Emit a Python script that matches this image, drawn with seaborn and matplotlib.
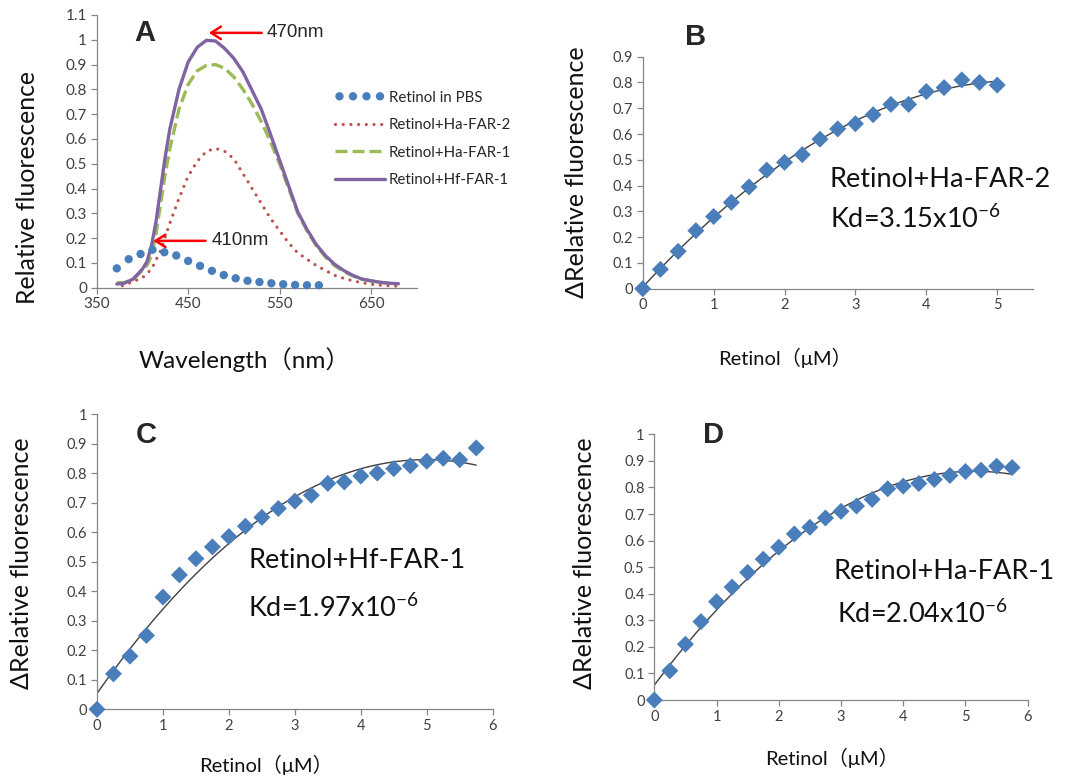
import numpy as np
import pandas as pd
import seaborn as sns
import matplotlib
matplotlib.use("Agg")
import matplotlib.pyplot as plt
from matplotlib.ticker import FuncFormatter, MultipleLocator

sns.set_style("white")
plt.rcParams['font.family'] = ['Lato', 'Noto Sans CJK SC', 'DejaVu Sans']
plt.rcParams['axes.unicode_minus'] = False

# ---------------- Panel A data ----------------
pbs_wl = [372, 385, 398, 411, 424, 437, 450, 463, 476, 489, 502, 515, 528, 541, 554, 567, 580, 593]
pbs_val = [0.078, 0.115, 0.136, 0.153, 0.143, 0.13, 0.108, 0.088, 0.068, 0.051, 0.038, 0.028,
           0.023, 0.018, 0.014, 0.011, 0.01, 0.01]

far2_wl = [378, 390, 400, 410, 420, 430, 440, 450, 460, 470, 480, 490, 500, 510, 520, 530, 540,
           550, 560, 570, 580, 590, 600, 610, 620, 630, 640, 650, 660, 670, 680]
far2_val = [0.008, 0.025, 0.04, 0.075, 0.15, 0.26, 0.36, 0.45, 0.51, 0.55, 0.562, 0.55, 0.52,
            0.46, 0.40, 0.34, 0.28, 0.23, 0.18, 0.14, 0.115, 0.09, 0.07, 0.05, 0.038, 0.028,
            0.02, 0.014, 0.01, 0.008, 0.006]

far1_wl = [372, 380, 390, 400, 405, 410, 415, 420, 425, 430, 440, 450, 460, 470, 480, 490, 500,
           510, 520, 530, 540, 550, 560, 570, 580, 590, 600, 610, 620, 630, 640, 650, 660, 670, 680]
haf1_val = [0.02, 0.02, 0.035, 0.07, 0.09, 0.13, 0.22, 0.34, 0.46, 0.56, 0.72, 0.82, 0.875,
            0.897, 0.90, 0.885, 0.85, 0.80, 0.74, 0.67, 0.59, 0.50, 0.40, 0.30, 0.23, 0.17,
            0.125, 0.09, 0.065, 0.048, 0.034, 0.027, 0.021, 0.018, 0.016]
hff1_val = [0.015, 0.018, 0.035, 0.075, 0.105, 0.17, 0.27, 0.40, 0.53, 0.64, 0.80, 0.91, 0.97,
            0.998, 0.995, 0.965, 0.925, 0.87, 0.795, 0.72, 0.62, 0.515, 0.41, 0.305, 0.235,
            0.175, 0.13, 0.095, 0.07, 0.05, 0.035, 0.028, 0.022, 0.018, 0.016]

# ---------------- Panels B-D data ----------------
conc_b = [0, 0.25, 0.5, 0.75, 1, 1.25, 1.5, 1.75, 2, 2.25, 2.5, 2.75, 3, 3.25, 3.5, 3.75, 4,
          4.25, 4.5, 4.75, 5]
val_b = [0, 0.075, 0.145, 0.225, 0.28, 0.335, 0.395, 0.46, 0.49, 0.52, 0.58, 0.62, 0.64, 0.675,
         0.715, 0.715, 0.765, 0.78, 0.81, 0.80, 0.79]

conc_cd = [0, 0.25, 0.5, 0.75, 1, 1.25, 1.5, 1.75, 2, 2.25, 2.5, 2.75, 3, 3.25, 3.5, 3.75, 4,
           4.25, 4.5, 4.75, 5, 5.25, 5.5, 5.75]
val_c = [0, 0.12, 0.18, 0.25, 0.38, 0.455, 0.51, 0.55, 0.585, 0.62, 0.65, 0.68, 0.705, 0.725,
         0.765, 0.77, 0.79, 0.80, 0.815, 0.825, 0.84, 0.85, 0.845, 0.885]
val_d = [0, 0.11, 0.21, 0.295, 0.37, 0.425, 0.48, 0.53, 0.575, 0.625, 0.65, 0.685, 0.71, 0.73,
         0.755, 0.795, 0.805, 0.815, 0.83, 0.845, 0.86, 0.865, 0.88, 0.875]

label_b = "Retinol+Ha-FAR-2"
label_c = "Retinol+Hf-FAR-1"
label_d = "Retinol+Ha-FAR-1"
kd_b, kd_c, kd_d = "3.15", "1.97", "2.04"

# ---------------- styling ----------------
AX_COL = "#868686"
TICK_COL = "#404040"
BLUE = "#4A7EBB"
RED = "#C0504D"
GREEN = "#9BBB59"
PURPLE = "#8064A2"
FIT = "#404040"
ARIAL = ['Liberation Sans', 'DejaVu Sans']

fig = plt.figure(figsize=(10.81, 7.78), dpi=100)
W, H = 1081, 778


def add_ax(l, t, r, b):
    return fig.add_axes([l / W, 1 - b / H, (r - l) / W, (b - t) / H])


def style(ax, ysize=10.5):
    sns.despine(ax=ax)
    for s in ("left", "bottom"):
        ax.spines[s].set_color(AX_COL)
        ax.spines[s].set_linewidth(0.9)
    ax.tick_params(axis="both", direction="out", length=4, width=0.9, color=AX_COL,
                   labelcolor=TICK_COL, labelsize=ysize, pad=3, left=True, bottom=True)
    ax.yaxis.set_major_formatter(FuncFormatter(lambda v, p: f"{v:g}"))
    ax.xaxis.set_major_formatter(FuncFormatter(lambda v, p: f"{v:g}"))
    ax.grid(False)


# ---------------- Panel A ----------------
axA = add_ax(96.7, 15, 416.7, 287.7)
sns.scatterplot(x=pbs_wl, y=pbs_val, ax=axA, color=BLUE, s=36, edgecolor="none",
                label="Retinol in PBS", clip_on=False, zorder=3)
sns.lineplot(x=far2_wl, y=far2_val, ax=axA, color=RED, lw=2.3,
             linestyle=(0, (0.01, 2.4)), dash_capstyle="round", label="Retinol+Ha-FAR-2")
sns.lineplot(x=far1_wl, y=haf1_val, ax=axA, color=GREEN, lw=2.4,
             linestyle=(0, (3.6, 1.5)), label="Retinol+Ha-FAR-1")
sns.lineplot(x=far1_wl, y=hff1_val, ax=axA, color=PURPLE, lw=2.4, label="Retinol+Hf-FAR-1")
axA.set_xlim(350, 700)
axA.set_ylim(0, 1.1)
axA.set_xticks([350, 450, 550, 650])
axA.yaxis.set_major_locator(MultipleLocator(0.1))
style(axA, 11)
axA.set_ylabel("Relative fluorescence", fontsize=17.8, va="center", color="#111111")
axA.yaxis.set_label_coords(-0.215, 0.366)
axA.set_xlabel("Wavelength（nm）", fontsize=17.5, va="center", color="#111111")
axA.xaxis.set_label_coords(0.463, -0.265)
leg = axA.legend(loc="center left", bbox_to_anchor=(335 / W, 1 - 138.8 / H),
                 bbox_transform=fig.transFigure, frameon=False, fontsize=10.8,
                 handlelength=3.3, handletextpad=0.3, labelspacing=0.9, borderpad=0,
                 borderaxespad=0, scatterpoints=4, scatteryoffsets=[0.5])
for t in leg.get_texts():
    t.set_color("#262626")
axA.annotate("", xy=(472.7, 1.028), xytext=(530.5, 1.028),
             arrowprops=dict(arrowstyle="->,head_length=0.7,head_width=0.45", color="red",
                             lw=1.8, shrinkA=0, shrinkB=0), annotation_clip=False)
axA.text(536, 1.028, "470nm", fontsize=13.5, family=ARIAL, va="center", ha="left")
axA.annotate("", xy=(412, 0.189), xytext=(469, 0.189),
             arrowprops=dict(arrowstyle="->,head_length=0.7,head_width=0.45", color="red",
                             lw=1.8, shrinkA=0, shrinkB=0))
axA.text(476, 0.189, "410nm", fontsize=13.5, family=ARIAL, va="center", ha="left")
axA.text(391.5, 0.997, "A", fontsize=21, fontweight="bold", family=ARIAL, va="baseline")


def binding_panel(ax, x, y, xmax, ymax, letter, lpos, name, npos, kd, kpos,
                  ylab_pos, xlab_pos):
    sns.regplot(x=x, y=y, ax=ax, order=2, ci=None, scatter=False, truncate=True,
                line_kws=dict(color=FIT, lw=1.0))
    sns.scatterplot(x=x, y=y, ax=ax, marker="D", s=75, color=BLUE, edgecolor="none",
                    clip_on=False, zorder=3)
    ax.set_xlim(0, xmax)
    ax.set_ylim(0, ymax)
    ax.xaxis.set_major_locator(MultipleLocator(1))
    ax.yaxis.set_major_locator(MultipleLocator(0.1))
    style(ax, 10.5)
    ax.set_ylabel("ΔRelative fluorescence", fontsize=18, va="center", color="#111111")
    ax.yaxis.set_label_coords(*ylab_pos)
    ax.set_xlabel("Retinol（μM）", fontsize=14.5, va="center", color="#111111")
    ax.xaxis.set_label_coords(*xlab_pos)
    ax.text(lpos[0], lpos[1], letter, fontsize=21, fontweight="bold", family=ARIAL,
            va="baseline", clip_on=False)
    ax.text(npos[0], npos[1], name, fontsize=19.5, va="baseline", color="#111111")
    ax.text(kpos[0], kpos[1], "Kd=" + kd + "x10$^{\\mathregular{-6}}$", fontsize=19.5,
            va="baseline", color="#111111")


axB = add_ax(642.7, 56.7, 1032.7, 288.7)
binding_panel(axB, conc_b, val_b, 5.5, 0.9, "B", (0.596, 0.945), label_b, (2.64, 0.396),
              kd_b, (2.64, 0.234), (-0.171, 0.503), (0.365, -0.299))

axC = add_ax(97, 414, 492.7, 709.3)
binding_panel(axC, conc_cd, val_c, 6, 1.0, "C", (0.59, 0.903), label_c, (2.294, 0.4775),
              kd_c, (2.294, 0.3136), (-0.19, 0.495), (0.428, -0.189))

axD = add_ax(654.3, 434.3, 1027.7, 700)
binding_panel(axD, conc_cd, val_d, 6, 1.0, "D", (0.788, 0.968), label_d, (2.878, 0.454),
              kd_d, (2.93, 0.289), (-0.186, 0.514), (0.475, -0.219))

fig.savefig("out.png", dpi=100)
